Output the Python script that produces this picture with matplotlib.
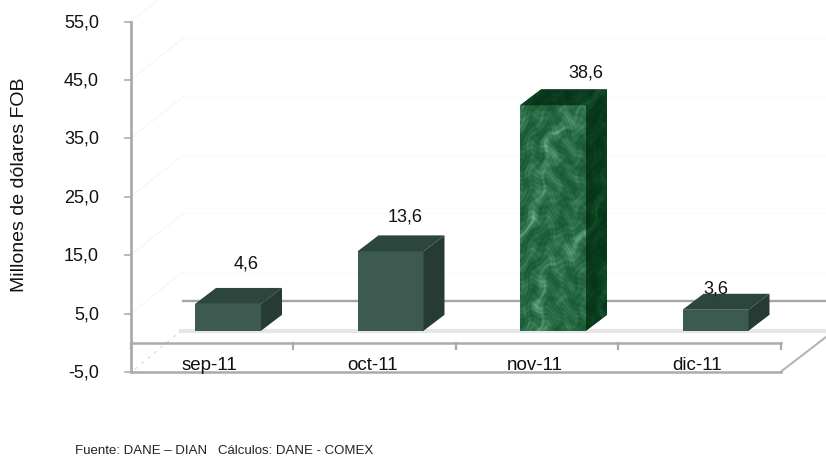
#!/usr/bin/env python3

import numpy as np
import matplotlib
matplotlib.use('Agg')
import matplotlib.pyplot as plt
from matplotlib.patches import Polygon

plt.rcParams['font.family'] = ['Liberation Sans', 'DejaVu Sans']

CATEGORIES = ['sep-11', 'oct-11', 'nov-11', 'dic-11']
VALUES = [4.6, 13.6, 38.6, 3.6]
VALUE_LABELS = ['4,6', '13,6', '38,6', '3,6']
Y_TICKS = [-5, 5, 15, 25, 35, 45, 55]
Y_TICK_LABELS = ['-5,0', '5,0', '15,0', '25,0', '35,0', '45,0', '55,0']

# label nudges in pixels, they are placed by hand in the original
LABEL_DX = [18, 15, 33, 0]
LABEL_DY = [40, 34, 32, 21]

W, H = 826, 458
FACE = '#3d5a50'
TOP = '#2d463d'
SIDE = '#263b33'
AXIS = '#ababab'
TEXT = '#111111'
# one unit on y in pixels
PX = 5.84
# pixels per category
CAT = 162.5
X0 = 130.5
Y_M5 = 372
BAR_W = 66
DEPTH_X = 21
DEPTH_Y = 16
FLOOR_UP = 12
WALL_X = 53
WALL_Y = 42

fig = plt.figure(figsize=(W / 100, H / 100), dpi=100)
# axes covers the whole figure, working in pixels
ax = fig.add_axes([0, 0, 1, 1])
ax.set_xlim(0, W)
ax.set_ylim(H, 0)
ax.axis('off')

def y_px(value):
    ''' pixel row for a value on the front axis '''
    return Y_M5 - (value + 5) * PX

def marble(x, y):
    ''' veined texture built from sines, 0 is dark and 1 is a light vein '''
    wx = x + 9 * np.sin(y * 0.047 + 1.3) + 4 * np.sin(y * 0.19)
    wy = y + 11 * np.sin(x * 0.083 + 0.4) + 3 * np.sin(x * 0.37)
    mottled = (np.sin(wx * 0.31 + wy * 0.07) + np.sin(wy * 0.23 - wx * 0.11 + 1.0)
               + 0.7 * np.sin(wx * 0.71 + wy * 0.53) + 0.6 * np.sin(wx * 0.59 - wy * 0.83))
    vein = 1 - np.abs(np.sin((wx * 0.9 + wy * 0.42) * 0.06 + 0.6))
    v = mottled + 4 * vein ** 3
    return np.clip((v - v.min()) / (v.max() - v.min()), 0, 1) ** 1.6

def add_texture(patch, box, dark, light):
    ''' fill a polygon with the marble between two colours '''
    left, right, bottom, top = box
    yy, xx = np.mgrid[top:bottom, left:right]
    tex = marble(xx, yy)[..., None]
    rgb = (1 - tex) * np.array(dark) + tex * np.array(light)
    im = ax.imshow(rgb, extent=(left, right, bottom, top), zorder=4, aspect='auto', interpolation='bilinear')
    im.set_clip_path(patch)

zero = y_px(0)
# faint wall grid, hardly visible in the original
for tick in Y_TICKS[1:]:
    ax.plot([X0, X0 + WALL_X], [y_px(tick), y_px(tick) - WALL_Y], color='#f7f7f7', lw=1, zorder=1)
    ax.plot([X0 + WALL_X, W], [y_px(tick) - WALL_Y] * 2, color='#fbfbfb', lw=1, zorder=1)
# back wall line, floor band and floor edges
ax.plot([183, W], [zero - WALL_Y, zero - WALL_Y], color='#a6a6a6', lw=1.7, zorder=1)
ax.plot([181, W], [zero - FLOOR_UP, zero - FLOOR_UP], color='#e6e6e6', lw=3, zorder=1)
ax.plot([135, 181], [Y_M5 - 3, zero - FLOOR_UP], color='#dddddd', lw=1, ls=(0, (2, 4)), zorder=1)
ax.plot([X0 + 4 * CAT, W], [Y_M5, Y_M5 - 35], color='#b5b5b5', lw=1.5, zorder=1)

# the axes themselves
ax.plot([X0, X0], [y_px(55), Y_M5], color=AXIS, lw=2, zorder=2)
ax.plot([X0, X0 + 4 * CAT], [Y_M5, Y_M5], color=AXIS, lw=1.8, zorder=2)
ax.plot([X0, X0 + 4 * CAT], [zero, zero], color=AXIS, lw=1.8, zorder=2)
for tick, label in zip(Y_TICKS, Y_TICK_LABELS):
    ax.plot([125, X0], [y_px(tick), y_px(tick)], color=AXIS, lw=1.2, zorder=2)
    ax.text(99, y_px(tick) + 1, label, ha='right', va='center', fontsize=13, color=TEXT)
for i in range(5):
    ax.plot([X0 + i * CAT] * 2, [zero, zero + 6], color=AXIS, lw=1.6, zorder=2)

for i, (name, value) in enumerate(zip(CATEGORIES, VALUES)):
    left = X0 + i * CAT + 64.5
    right = left + BAR_W
    bottom = zero - FLOOR_UP
    top = bottom - value * PX
    is_marble = name == 'nov-11'
    front = Polygon([(left, bottom), (right, bottom), (right, top), (left, top)], fc=FACE, ec='none', zorder=3)
    upper = Polygon([(left, top), (right, top), (right + DEPTH_X, top - DEPTH_Y), (left + DEPTH_X, top - DEPTH_Y)],
                    fc=TOP, ec='none', zorder=3)
    side = Polygon([(right, bottom), (right + DEPTH_X, bottom - DEPTH_Y), (right + DEPTH_X, top - DEPTH_Y), (right, top)],
                   fc=SIDE, ec='none', zorder=3)
    for patch in (front, upper, side):
        ax.add_patch(patch)
    if is_marble:
        box = (left, right + DEPTH_X, bottom, top - DEPTH_Y)
        add_texture(front, box, (0.09, 0.35, 0.20), (0.45, 0.72, 0.56))
        add_texture(upper, box, (0.03, 0.20, 0.10), (0.10, 0.36, 0.20))
        add_texture(side, box, (0.02, 0.20, 0.09), (0.10, 0.36, 0.20))
        ax.set_xlim(0, W)
        ax.set_ylim(H, 0)
    ax.text((left + right) / 2 + LABEL_DX[i], top - LABEL_DY[i], VALUE_LABELS[i], ha='center', va='center',
            fontsize=13, color=TEXT, zorder=5)
    ax.text(X0 + (i + 0.5) * CAT - 2, 365, name, ha='center', va='center', fontsize=13.5, color=TEXT, zorder=5)

ax.text(20, 185, 'Millones de dólares FOB', rotation=90, ha='center', va='center', fontsize=14, color=TEXT)
ax.text(75, 451, 'Fuente: DANE – DIAN   Cálculos: DANE - COMEX', ha='left', va='center', fontsize=9.5, color='#222222')

fig.savefig('out.png', dpi=100)
